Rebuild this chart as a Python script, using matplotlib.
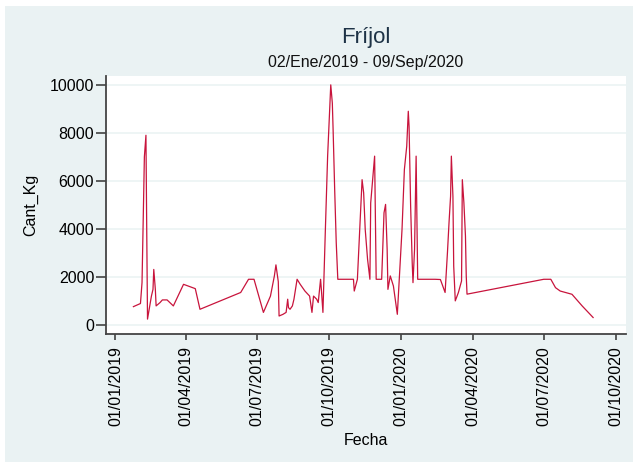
import pandas as pd
import matplotlib
matplotlib.use('Agg')
import matplotlib.pyplot as plt
import matplotlib.dates as mdates
from matplotlib.patches import Rectangle

plt.rcParams['font.family'] = ['Liberation Sans', 'DejaVu Sans']

# Fecha / Cant_Kg
fechas = [
    '2019-01-24', '2019-02-02', '2019-02-04', '2019-02-05', '2019-02-06', '2019-02-07',
    '2019-02-09', '2019-02-10', '2019-02-11', '2019-02-16', '2019-02-18', '2019-02-19',
    '2019-02-21', '2019-02-22', '2019-02-27', '2019-03-02', '2019-03-08', '2019-03-16',
    '2019-03-29', '2019-04-13', '2019-04-19', '2019-06-10', '2019-06-20', '2019-06-27',
    '2019-07-09', '2019-07-18', '2019-07-23', '2019-07-25', '2019-07-28', '2019-07-29',
    '2019-08-03', '2019-08-07', '2019-08-09', '2019-08-10', '2019-08-12', '2019-08-15',
    '2019-08-17', '2019-08-21', '2019-08-25', '2019-08-31', '2019-09-06', '2019-09-09',
    '2019-09-11', '2019-09-15', '2019-09-17', '2019-09-20', '2019-09-21', '2019-09-23',
    '2019-09-26', '2019-09-29', '2019-10-03', '2019-10-05', '2019-10-06', '2019-10-08',
    '2019-10-10', '2019-10-12', '2019-11-01', '2019-11-02', '2019-11-06', '2019-11-09',
    '2019-11-12', '2019-11-14', '2019-11-16', '2019-11-19', '2019-11-22', '2019-11-23',
    '2019-11-28', '2019-11-30', '2019-12-07', '2019-12-10', '2019-12-12', '2019-12-14',
    '2019-12-15', '2019-12-18', '2019-12-22', '2019-12-27', '2020-01-02', '2020-01-05',
    '2020-01-08', '2020-01-10', '2020-01-11', '2020-01-13', '2020-01-15', '2020-01-16',
    '2020-01-18', '2020-01-20', '2020-01-22', '2020-02-13', '2020-02-20', '2020-02-26',
    '2020-02-29', '2020-03-02', '2020-03-04', '2020-03-05', '2020-03-07', '2020-03-08',
    '2020-03-10', '2020-03-14', '2020-03-18', '2020-03-19', '2020-03-21', '2020-03-23',
    '2020-03-24', '2020-03-25', '2020-07-01', '2020-07-10', '2020-07-16', '2020-07-22',
    '2020-08-06', '2020-08-19', '2020-09-02',
]
cant_kg = [
    760, 890, 1760, 3490, 5220, 7000,
    7900, 4000, 240, 1200, 1480, 2310,
    1480, 790, 930, 1040, 1040, 790,
    1690, 1510, 650, 1350, 1900, 1900,
    520, 1200, 2040, 2500, 1800, 370,
    440, 520, 1070, 720, 650, 790,
    1070, 1900, 1690, 1410, 1200, 520,
    1200, 1070, 930, 1900, 1480, 520,
    3840, 7030, 10000, 9240, 8130, 5640,
    3420, 1900, 1900, 1410, 1900, 3980,
    6050, 5500, 3980, 2730, 1900, 5080,
    7030, 1900, 1900, 4670, 5020, 3150,
    1480, 2040, 1620, 440, 3980, 6470,
    7440, 8900, 8270, 4940, 2590, 1760,
    3150, 7030, 1900, 1900, 1890, 1350,
    3010, 4250, 5360, 7030, 5360, 2450,
    1000, 1350, 1830, 6050, 5090, 3700,
    2040, 1280, 1900, 1900, 1550, 1410,
    1275, 790, 307,
]
tick_fechas = ['2019-01-01', '2019-04-01', '2019-07-01', '2019-10-01',
               '2020-01-01', '2020-04-01', '2020-07-01', '2020-10-01']
y_ticks = [0, 2000, 4000, 6000, 8000, 10000]

df = pd.DataFrame({'Fecha': pd.to_datetime(fechas), 'Cant_Kg': cant_kg})

W, H = 638, 468
fig = plt.figure(figsize=(W / 100, H / 100), dpi=100, facecolor='white')
# Stata-like light background
fig.patches.append(Rectangle((5 / W, 6 / H), 628 / W, 456 / H, transform=fig.transFigure,
                             facecolor='#eaf2f3', edgecolor='none', zorder=-10))

left, right, top, bottom = 106, 626, 75.5, 334
ax = fig.add_axes([left / W, 1 - bottom / H, (right - left) / W, (bottom - top) / H])
ax.set_facecolor('white')

ax.plot(df['Fecha'], df['Cant_Kg'], color='#c8143c', lw=0.9)

ax.set_xlim(pd.Timestamp('2018-12-20'), pd.Timestamp('2020-10-14'))
ax.set_ylim(-380, 10390)

ax.set_yticks(y_ticks)
ax.set_xticks(pd.to_datetime(tick_fechas))
ax.xaxis.set_major_formatter(mdates.DateFormatter('%d/%m/%Y'))
ax.tick_params(axis='x', labelrotation=90, length=4.5, width=1.1, color='#333333',
               labelsize=11.5, pad=4)
ax.tick_params(axis='y', length=7, width=1.1, color='#333333', labelsize=11.5, pad=1.5)
for lab in ax.get_yticklabels():
    lab.set_rotation(0)

ax.grid(axis='y', color='#eaf2f3', lw=1.1)
ax.set_axisbelow(True)
for s in ['top', 'right']:
    ax.spines[s].set_visible(False)
for s in ['left', 'bottom']:
    ax.spines[s].set_color('#444444')
    ax.spines[s].set_linewidth(1.3)

ax.set_ylabel('Cant_Kg', fontsize=11.5, labelpad=8)
ax.set_xlabel('Fecha', fontsize=11.5, labelpad=5)

cx = (left + right) / 2 / W
fig.text(cx, 1 - 37 / H, 'Fríjol', ha='center', va='center', fontsize=16, color='#1e3346')
fig.text(cx, 1 - 62 / H, '02/Ene/2019 - 09/Sep/2020', ha='center', va='center',
         fontsize=11.5, color='#111111')

fig.savefig('out.png', dpi=100, facecolor='white')
